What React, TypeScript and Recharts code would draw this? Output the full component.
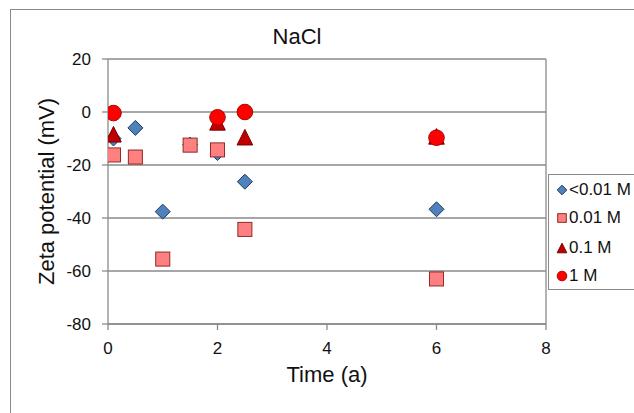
import React from 'react';
import { ScatterChart, Scatter, XAxis, YAxis, CartesianGrid, ReferenceLine, Legend } from 'recharts';

const FONT = '"Liberation Sans", Arial, Helvetica, sans-serif';

const chartTitle = 'NaCl';
const xAxisTitle = 'Time (a)';
const yAxisTitle = 'Zeta potential (mV)';

const seriesNames = ['<0.01 M', '0.01 M', '0.1 M', '1 M'];

const timeLt001 = [0.1, 0.5, 1, 1.5, 2, 2.5, 6];
const zetaLt001 = [-10, -6, -37.6, -12.3, -15.5, -26.3, -36.7];

const time001 = [0.1, 0.5, 1, 1.5, 2, 2.5, 6];
const zeta001 = [-16.2, -17, -55.5, -12.5, -14.3, -44.3, -63];

const time01 = [0.1, 2, 2.5, 6];
const zeta01 = [-8.4, -3.9, -9.5, -9.2];

const time1 = [0.1, 2, 2.5, 6];
const zeta1 = [-0.4, -2, 0, -9.7];

const xTicks = [0, 2, 4, 6, 8];
const yTicks = [-80, -60, -40, -20, 0, 20];

const toPoints = (xs: number[], ys: number[]) => xs.map((x, i) => ({ x, y: ys[i] }));

type Kind = 'diamond' | 'square' | 'triangle' | 'circle';
const kinds: Kind[] = ['diamond', 'square', 'triangle', 'circle'];

const markerStyle: Record<Kind, { fill: string; stroke: string }> = {
  diamond: { fill: '#4F81BD', stroke: '#1F3A5F' },
  square: { fill: '#FF8080', stroke: '#8E2B2B' },
  triangle: { fill: '#C00000', stroke: '#7A0000' },
  circle: { fill: '#FF0000', stroke: '#B00000' },
};

function markerPath(kind: Kind, cx: number, cy: number, h: number) {
  const st = markerStyle[kind];
  if (kind === 'diamond') {
    return <path d={`M${cx},${cy - h} L${cx + h},${cy} L${cx},${cy + h} L${cx - h},${cy} Z`} fill={st.fill} stroke={st.stroke} strokeWidth={1} />;
  }
  if (kind === 'square') {
    const s = h * 0.9;
    return <rect x={cx - s} y={cy - s} width={2 * s} height={2 * s} fill={st.fill} stroke={st.stroke} strokeWidth={1} />;
  }
  if (kind === 'triangle') {
    return <path d={`M${cx},${cy - h} L${cx + h},${cy + h} L${cx - h},${cy + h} Z`} fill={st.fill} stroke={st.stroke} strokeWidth={1} />;
  }
  return <circle cx={cx} cy={cy} r={h} fill={st.fill} stroke={st.stroke} strokeWidth={1} />;
}

const makeShape = (kind: Kind) => (props: any) => {
  const { cx, cy } = props;
  if (cx == null || cy == null) return <g />;
  return markerPath(kind, cx, cy, kind === 'diamond' ? 7.5 : 7.8);
};

const seriesData = [
  toPoints(timeLt001, zetaLt001),
  toPoints(time001, zeta001),
  toPoints(time01, zeta01),
  toPoints(time1, zeta1),
];

const LegendBox = () => (
  <div
    style={{
      position: 'relative',
      width: 100,
      height: 116,
      border: '1.5px solid #8a8a8a',
      background: '#fff',
      fontFamily: FONT,
      fontSize: 17,
      color: '#111',
      boxSizing: 'border-box',
    }}
  >
    {seriesNames.map((name, i) => (
      <div
        key={name}
        style={{
          position: 'absolute',
          left: 0,
          top: [15, 43, 73, 101][i] - 11,
          height: 22,
          display: 'flex',
          alignItems: 'center',
          whiteSpace: 'nowrap',
        }}
      >
        <svg width={20} height={22} style={{ display: 'block' }}>
          {markerPath(kinds[i], 13, 11, 4.8)}
        </svg>
        <span style={{ marginLeft: 0, lineHeight: '22px' }}>{name}</span>
      </div>
    ))}
  </div>
);

const YTitle = (props: any) => {
  const vb = props.viewBox || {};
  const x = vb.x;
  const y = vb.y + vb.height / 2;
  return (
    <text
      x={x}
      y={y}
      transform={`rotate(-90, ${x}, ${y})`}
      textAnchor="middle"
      dominantBaseline="central"
      fontFamily={FONT}
      fontSize={22}
      fill="#111"
    >
      {yAxisTitle}
    </text>
  );
};

const XTitle = (props: any) => {
  const vb = props.viewBox || {};
  const x = vb.x + vb.width / 2;
  const y = vb.y + 58;
  return (
    <text x={x} y={y} textAnchor="middle" fontFamily={FONT} fontSize={22} fill="#111">
      {xAxisTitle}
    </text>
  );
};

export default function App() {
  const tickStyle = { fontFamily: FONT, fontSize: 17, fill: '#111' };
  return (
    <div style={{ position: 'absolute', left: 0, top: 0, width: 634, height: 413, overflow: 'hidden', background: '#fff' }}>
      <div
        style={{
          position: 'absolute',
          left: 10,
          top: 9,
          width: 700,
          height: 500,
          borderLeft: '1.5px solid #8a8a8a',
          borderTop: '1.5px solid #8a8a8a',
        }}
      />
      <div style={{ position: 'absolute', left: 0, top: 0 }}>
        <ScatterChart width={634} height={413} margin={{ top: 59, right: 88, bottom: 29, left: 46 }}>
          <CartesianGrid horizontal={true} vertical={false} stroke="#8a8a8a" strokeWidth={1.3} />
          <XAxis
            type="number"
            dataKey="x"
            domain={[0, 8]}
            ticks={xTicks}
            height={60}
            tickSize={6}
            tickMargin={12}
            tick={tickStyle}
            stroke="#8a8a8a"
            axisLine={{ stroke: '#8a8a8a', strokeWidth: 1.3 }}
            tickLine={{ stroke: '#8a8a8a', strokeWidth: 1.3 }}
            allowDataOverflow
            label={<XTitle />}
          />
          <YAxis
            type="number"
            dataKey="y"
            domain={[-80, 20]}
            ticks={yTicks}
            width={62}
            tickSize={6}
            tickMargin={11}
            tick={tickStyle}
            stroke="#8a8a8a"
            axisLine={{ stroke: '#8a8a8a', strokeWidth: 1.3 }}
            tickLine={{ stroke: '#8a8a8a', strokeWidth: 1.3 }}
            allowDataOverflow
            label={<YTitle />}
          />
          <ReferenceLine x={8} stroke="#8a8a8a" strokeWidth={1.3} />
          <Legend
            layout="horizontal"
            align="center"
            verticalAlign="middle"
            content={() => <LegendBox />}
            wrapperStyle={{ left: 548, top: 174, width: 100, height: 116 }}
          />
          {seriesNames.map((name, i) => (
            <Scatter
              key={name}
              name={name}
              data={seriesData[i]}
              fill={markerStyle[kinds[i]].fill}
              shape={makeShape(kinds[i])}
              isAnimationActive={false}
            />
          ))}
        </ScatterChart>
      </div>
      <div
        style={{
          position: 'absolute',
          left: 247,
          width: 100,
          top: 26,
          textAlign: 'center',
          fontFamily: FONT,
          fontSize: 22,
          lineHeight: '22px',
          color: '#111',
        }}
      >
        {chartTitle}
      </div>
    </div>
  );
}
